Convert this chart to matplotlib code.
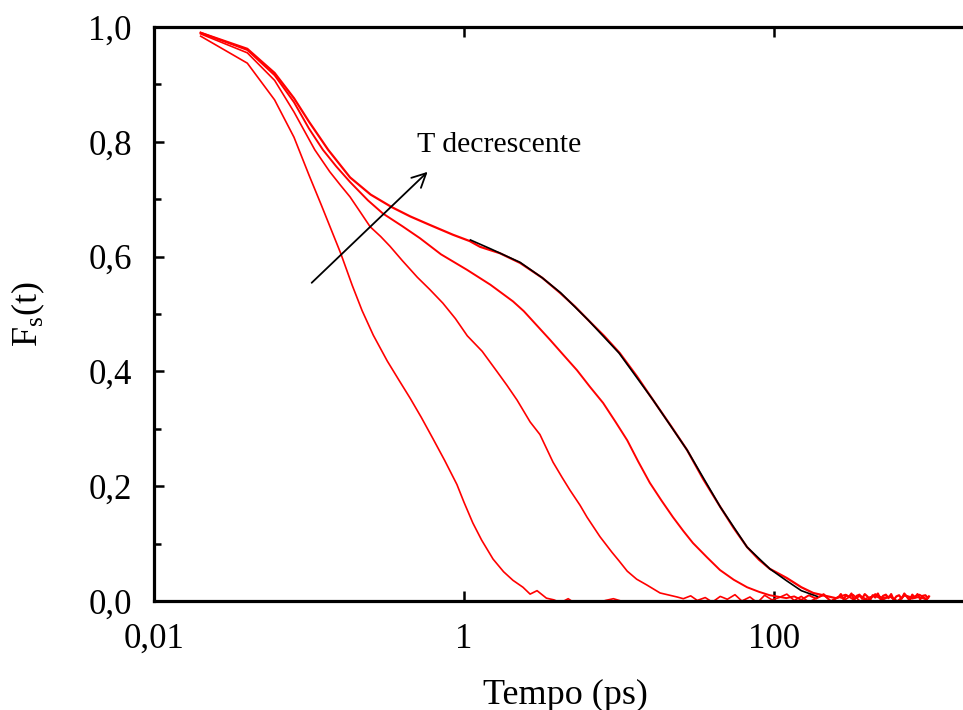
import numpy as np
import matplotlib
matplotlib.use('Agg')
import matplotlib.pyplot as plt
from matplotlib.ticker import FixedLocator, NullLocator

plt.rcParams['font.family'] = ['Liberation Serif', 'DejaVu Serif']
plt.rcParams['mathtext.fontset'] = 'custom'
plt.rcParams['mathtext.rm'] = 'Liberation Serif'

# F_s(t) curves (t in ps), highest T first
tA = [0.02, 0.04, 0.06, 0.08, 0.10, 0.12, 0.14, 0.16, 0.19, 0.22, 0.26, 0.32, 0.38, 0.45, 0.53, 0.63, 0.75, 0.90, 1.0, 1.14,
      1.3, 1.54, 1.8, 2.07, 2.4, 2.67, 2.96, 3.4,
      3.8, 4.2, 4.7, 5.2, 5.8, 6.5, 7.3, 8.2, 9.2, 10.3, 11.5]
FA = [0.984, 0.937, 0.873, 0.808, 0.742, 0.690, 0.645, 0.606, 0.550, 0.506, 0.463, 0.418, 0.385, 0.353, 0.320, 0.283, 0.245, 0.203, 0.172, 0.136,
      0.106, 0.073, 0.051, 0.036, 0.024, 0.012, 0.018, 0.005,
      0.002, -0.003, 0.004, -0.004, -0.002, -0.005, -0.003, 0.001, 0.004, 0.0, -0.004]

tB = [0.02, 0.04, 0.06, 0.08, 0.109, 0.136, 0.16, 0.184, 0.215, 0.248, 0.29, 0.333, 0.40, 0.50, 0.60, 0.73, 0.88, 1.05, 1.31, 1.63,
      1.89, 2.2, 2.67, 3.09, 3.75, 4.3, 4.83, 5.6, 6.22, 7.54, 9.0, 10.0, 11.3, 13.0, 15.1, 18.4, 23.7]
FB = [0.988, 0.955, 0.907, 0.852, 0.786, 0.748, 0.724, 0.704, 0.677, 0.652, 0.635, 0.618, 0.593, 0.564, 0.543, 0.519, 0.492, 0.462, 0.435, 0.400,
      0.376, 0.350, 0.312, 0.290, 0.242, 0.215, 0.193, 0.167, 0.146, 0.112, 0.085, 0.070, 0.052, 0.038, 0.028, 0.014, 0.007]
tB_tail = [26, 29, 32, 36, 40, 45, 50, 56, 62, 70, 78, 87, 97, 108, 121, 135, 150, 168, 187, 209,
           233, 260, 290, 324, 361, 403, 450, 502, 560, 625, 697, 778, 868, 968]
FB_tail = [0.004, 0.009, 0.001, 0.006, -0.002, 0.008, 0.003, 0.011, 0.0, 0.007, -0.003, 0.010, 0.002, 0.006, 0.012, 0.001, 0.008, -0.002, 0.005, 0.010,
           0.0, 0.007, 0.003, 0.011, -0.001, 0.006, 0.009, 0.002, 0.008, 0.0, 0.010, 0.004, 0.007, 0.002]

tC = [0.02, 0.04, 0.06, 0.08, 0.10, 0.123, 0.15, 0.184, 0.24, 0.30, 0.40, 0.52, 0.71, 1.045, 1.48, 2.07, 2.43, 3.0, 3.59, 4.4,
      5.36, 6.5, 7.9, 9.5, 11.3, 13.3, 15.8, 18.8, 22.3, 26, 30, 37, 44.8, 55, 67, 80, 94, 120]
FC = [0.99, 0.96, 0.916, 0.869, 0.823, 0.786, 0.757, 0.730, 0.698, 0.675, 0.653, 0.632, 0.604, 0.577, 0.551, 0.522, 0.505, 0.478, 0.455, 0.428,
      0.402, 0.373, 0.345, 0.312, 0.280, 0.243, 0.206, 0.175, 0.146, 0.122, 0.101, 0.076, 0.054, 0.037, 0.024, 0.016, 0.010, 0.005]
tC_tail = [135, 150, 168, 187, 209, 233, 260, 290, 324, 361, 403, 450, 502, 560, 625, 697, 778, 868, 968]
FC_tail = [0.008, 0.002, 0.010, 0.004, 0.012, -0.001, 0.007, 0.011, 0.003, 0.009, 0.001, 0.012, 0.005, 0.008, -0.002, 0.010, 0.006, 0.011, 0.003]

tD = [0.02, 0.04, 0.06, 0.08, 0.10, 0.133, 0.184, 0.25, 0.343, 0.45, 0.604, 0.85, 1.09, 1.27, 1.70, 2.3, 3.2, 4.16, 5.2, 6.3,
      8.0, 10.1, 13.0, 16.6, 21.5, 27.5, 35, 45, 55, 67, 80, 94, 121, 150, 179, 215, 250]
FD = [0.99, 0.962, 0.92, 0.876, 0.835, 0.786, 0.738, 0.708, 0.686, 0.670, 0.655, 0.638, 0.627, 0.617, 0.606, 0.589, 0.563, 0.537, 0.513, 0.490,
      0.462, 0.432, 0.392, 0.350, 0.306, 0.263, 0.212, 0.164, 0.127, 0.094, 0.072, 0.056, 0.040, 0.024, 0.014, 0.009, 0.005]
tD_tail = [260, 270, 281, 292, 304, 316, 329, 342, 356, 370, 385, 400, 416, 433, 450, 468, 487, 506, 527, 548,
           570, 592, 616, 641, 666, 693, 721, 750, 780, 811, 843, 877, 912, 948, 986, 1000]
FD_tail = [0.006, 0.012, 0.003, 0.010, 0.007, 0.013, 0.002, 0.009, 0.011, 0.004, 0.012, 0.008, 0.001, 0.010, 0.006, 0.013, 0.003, 0.009, 0.011, 0.005,
           0.012, 0.002, 0.008, 0.010, 0.004, 0.013, 0.007, 0.001, 0.011, 0.006, 0.012, 0.003, 0.009, 0.010, 0.005, 0.008]

# fit to the lowest temperature curve
t_fit = [1.1, 1.5, 2.3, 3.2, 4.2, 6.3, 10, 16.6, 27.5, 45, 67, 94, 121, 150, 190]
F_fit = [0.629, 0.613, 0.590, 0.563, 0.537, 0.490, 0.432, 0.350, 0.263, 0.164, 0.094, 0.056, 0.035, 0.018, 0.008]

x_ticks = [0.01, 1, 100, 10000]
x_labels = ['0,01', '1', '100', '']
y_ticks = [0.0, 0.2, 0.4, 0.6, 0.8, 1.0]
y_labels = ['0,0', '0,2', '0,4', '0,6', '0,8', '1,0']
y_minor = [0.1, 0.3, 0.5, 0.7, 0.9]

fig = plt.figure(figsize=(9.63, 7.10), dpi=100)
ax = fig.add_axes([154 / 963, 109 / 710, 930 / 963, 574 / 710])

red = '#ff0000'
ax.plot(tA, FA, color=red, lw=1.2)
ax.plot(tB + tB_tail, FB + FB_tail, color=red, lw=1.2)
ax.plot(tC + tC_tail, FC + FC_tail, color=red, lw=1.4)
ax.plot(tD + tD_tail, FD + FD_tail, color=red, lw=1.6)
ax.plot(t_fit, F_fit, color='black', lw=1.2)

ax.set_xscale('log')
ax.set_xlim(0.01, 10000)
ax.set_ylim(0, 1)

ax.xaxis.set_major_locator(FixedLocator(x_ticks))
ax.xaxis.set_minor_locator(NullLocator())
ax.set_xticklabels(x_labels)
ax.yaxis.set_major_locator(FixedLocator(y_ticks))
ax.yaxis.set_minor_locator(FixedLocator(y_minor))
ax.set_yticklabels(y_labels)

for s in ax.spines.values():
    s.set_linewidth(2.3)
ax.tick_params(which='both', direction='in', top=True, right=True, width=1.8)
ax.tick_params(which='major', length=7, labelsize=25)
ax.tick_params(which='minor', length=5)
ax.tick_params(axis='x', pad=16)
ax.tick_params(axis='y', pad=16)

ax.set_xlabel('Tempo (ps)', fontsize=26)
ax.xaxis.set_label_coords(0.442, -0.135)
ax.set_ylabel(r'F$_\mathregular{s}$(t)', fontsize=26)
ax.yaxis.set_label_coords(-0.115, 0.5)

ax.annotate('', xy=(0.60, 0.751), xytext=(0.101, 0.551),
            arrowprops=dict(arrowstyle='->', lw=1.3, color='black', mutation_scale=25))
ax.text(0.50, 0.782, 'T decrescente', fontsize=21.5, va='baseline', ha='left')

fig.savefig('out.png', dpi=100)
